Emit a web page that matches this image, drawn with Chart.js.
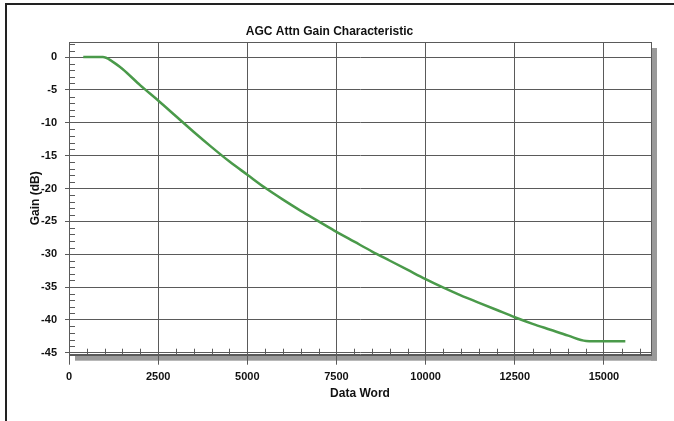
<!DOCTYPE html>
<html>
<head>
<meta charset="utf-8">
<script src="https://cdn.jsdelivr.net/npm/chart.js@4/dist/chart.umd.min.js"></script>
<style>
  html, body { margin: 0; padding: 0; background: #fff; overflow: hidden; }
  #frame {
    position: absolute; left: 5px; top: 3px; width: 669px; height: 418px;
    box-sizing: border-box;
    border-top: 2px solid #222; border-left: 2px solid #222;
  }
  #canvas { position: absolute; left: 0; top: 0; }
</style>
</head>
<body>
<div id="frame"></div>
<canvas id="canvas" width="674" height="421"></canvas>
<script>
// data word vs attenuator gain (dB)
const wordVals = [400, 950, 1200, 1500, 2000, 2500, 3000, 3500, 4000, 4500, 5000,
                  5500, 6000, 6500, 7000, 7500, 8000, 8500, 9000, 9500, 10000,
                  10500, 11000, 11500, 12000, 12500, 13000, 13500, 14000, 14500,
                  15000, 15600];
const gainVals = [0, 0, -0.6, -1.8, -4.3, -6.6, -9.0, -11.4, -13.7, -15.9, -17.9,
                  -19.9, -21.7, -23.4, -25.0, -26.6, -28.1, -29.6, -31.0, -32.4, -33.8,
                  -35.1, -36.3, -37.4, -38.5, -39.6, -40.6, -41.5, -42.4, -43.2,
                  -43.25, -43.25];
const xTickVals = [0, 2500, 5000, 7500, 10000, 12500, 15000];
const yTickVals = [0, -5, -10, -15, -20, -25, -30, -35, -40, -45];

const gridColor = '#5a5a5a';
const fontFam = '"Liberation Sans", Arial, sans-serif';

// plot frame, drop shadow and the little minor ticks
const decor = {
    id: 'decor',
    beforeDraw(chart) {
        const {ctx, chartArea: a} = chart;
        ctx.save();
        ctx.fillStyle = '#9a9a9a';
        ctx.fillRect(a.right, a.top + 6, 6, a.height);
        ctx.fillRect(a.left + 6, a.bottom, a.width, 6);
        ctx.restore();
    },
    afterDraw(chart) {
        const {ctx, chartArea: a, scales: {x, y}} = chart;
        ctx.save();
        ctx.strokeStyle = gridColor;
        ctx.lineWidth = 1;
        ctx.beginPath();
        for (let v = 2; v >= -45; v--) {
            if (v % 5 === 0) continue;
            const py = Math.round(y.getPixelForValue(v)) + 0.5;
            ctx.moveTo(a.left, py);
            ctx.lineTo(a.left + 6, py);
        }
        for (let v = 500; v <= 16000; v += 500) {
            if (v % 2500 === 0) continue;
            const px = Math.round(x.getPixelForValue(v)) + 0.5;
            ctx.moveTo(px, a.bottom);
            ctx.lineTo(px, a.bottom - 6);
        }
        ctx.stroke();
        ctx.strokeRect(Math.round(a.left) + 0.5, Math.round(a.top) + 0.5,
                       Math.round(a.width), Math.round(a.height));
        ctx.restore();
    }
};

createChart();

function createChart() {
    const ctx = document.getElementById('canvas').getContext('2d');
    const points = wordVals.map((w, i) => ({x: w, y: gainVals[i]}));

    new Chart(ctx, {
        type: 'line',
        data: {
            datasets: [{
                label: 'Gain',
                data: points,
                borderColor: '#4a9a4a',
                borderWidth: 2.5,
                pointRadius: 0,
                cubicInterpolationMode: 'monotone',
                fill: false
            }]
        },
        options: {
            responsive: false,
            devicePixelRatio: 1,
            animation: false,
            layout: { padding: { left: 8, right: 23, top: 0, bottom: 0 } },
            plugins: {
                legend: { display: false },
                tooltip: { enabled: false },
                title: {
                    display: true,
                    text: 'AGC Attn Gain Characteristic',
                    color: '#111',
                    font: { family: fontFam, size: 12, weight: 'bold' },
                    padding: { top: 24, bottom: 3.6 }
                }
            },
            scales: {
                x: {
                    type: 'linear',
                    min: 0,
                    max: 16320,
                    afterBuildTicks: s => { s.ticks = xTickVals.map(v => ({value: v})); },
                    afterFit: s => { s.height = 66.3; },
                    grid: { color: gridColor, lineWidth: 1, tickLength: 10 },
                    border: { color: gridColor },
                    ticks: {
                        autoSkip: false, maxRotation: 0, padding: 6, color: '#111',
                        font: { family: fontFam, size: 11, weight: 'bold' },
                        callback: v => String(v)
                    },
                    title: {
                        display: true, text: 'Data Word', color: '#111',
                        font: { family: fontFam, size: 12, weight: 'bold' },
                        padding: { top: 20, bottom: 20 }
                    }
                },
                y: {
                    type: 'linear',
                    min: -45.3,
                    max: 2.3,
                    afterBuildTicks: s => { s.ticks = yTickVals.map(v => ({value: v})); },
                    afterFit: s => { s.width = 61; },
                    grid: { color: gridColor, lineWidth: 1, tickLength: 4 },
                    border: { color: gridColor },
                    ticks: {
                        autoSkip: false, padding: 8, color: '#111',
                        font: { family: fontFam, size: 11, weight: 'bold' },
                        callback: v => String(v)
                    },
                    title: {
                        display: true, text: 'Gain (dB)', color: '#111',
                        font: { family: fontFam, size: 12, weight: 'bold' },
                        padding: { top: 20, bottom: 20 }
                    }
                }
            }
        },
        plugins: [decor]
    });
}
</script>
</body>
</html>
